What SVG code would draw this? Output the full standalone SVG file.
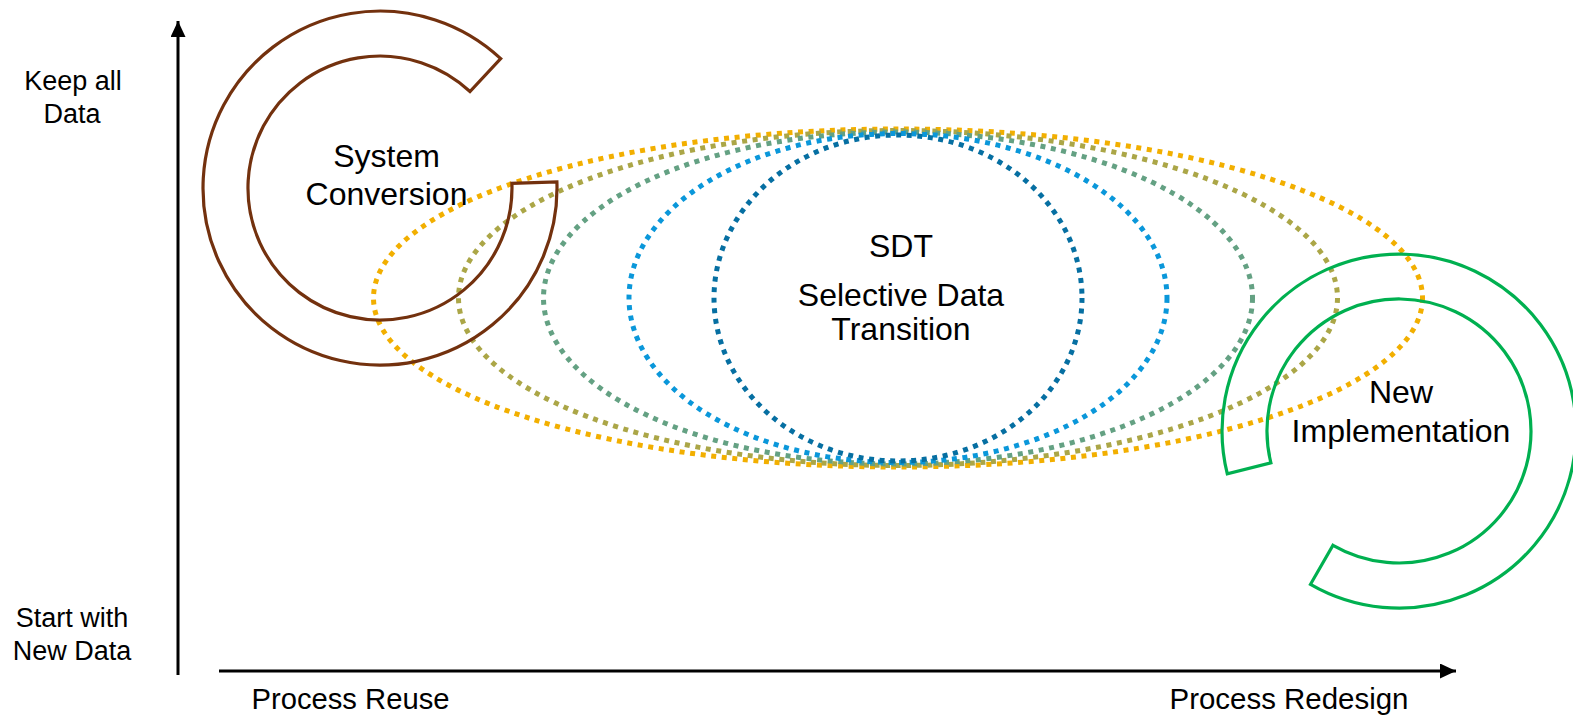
<svg xmlns="http://www.w3.org/2000/svg" width="1573" height="723" viewBox="0 0 1573 723">
  <style>
    text { font-family: "Liberation Sans", Arial, sans-serif; fill: #000; }
    .node { font-size: 32px; text-anchor: middle; }
    .axlab { font-size: 27px; text-anchor: middle; }
    .xlab { font-size: 29px; text-anchor: middle; }
    .dot { fill: none; stroke-width: 5; stroke-dasharray: 5 5.6; }
    .ring { stroke-width: 3.2; fill: none; stroke-linejoin: miter; }
    .axis { stroke: #000; stroke-width: 3; fill: none; }
  </style>
  <defs>
    <marker id="arrow" markerUnits="userSpaceOnUse" markerWidth="18" markerHeight="16" refX="16" refY="7.5" orient="auto">
      <path d="M0,0 L16,7.5 L0,15 Z" fill="#000"/>
    </marker>
  </defs>
  <rect width="1573" height="723" fill="#fff"/>

  <g id="connectors">
    <line class="axis" x1="178" y1="675" x2="178" y2="21" marker-end="url(#arrow)"/>
    <line class="axis" x1="219" y1="671" x2="1456" y2="671" marker-end="url(#arrow)"/>
  </g>

  <g id="sdt">
    <ellipse class="dot" cx="898" cy="298" rx="524.5" ry="169" stroke="#F2AF00"/>
    <ellipse class="dot" cx="898" cy="298" rx="439.5" ry="167.5" stroke="#ABA647"/>
    <ellipse class="dot" cx="898" cy="298" rx="354.5" ry="166" stroke="#64A183"/>
    <ellipse class="dot" cx="898" cy="298" rx="269" ry="164.5" stroke="#0A97DA"/>
    <ellipse class="dot" cx="898" cy="298" rx="184" ry="163" stroke="#066FA2"/>
    <text class="node" x="901" y="257">SDT</text>
    <text class="node" x="901" y="306">Selective Data</text>
    <text class="node" x="901" y="340">Transition</text>
  </g>

  <g id="system-conversion">
    <path class="ring" stroke="#73310E" d="M500.7,58.6 A177,177 0 1 0 556.9,181.8 L511.9,183.4 A132,132 0 1 1 470.0,91.5 Z"/>
    <text class="node" x="386.5" y="167">System</text>
    <text class="node" x="386.5" y="205">Conversion</text>
  </g>

  <g id="new-implementation">
    <path class="ring" stroke="#00B050" d="M1227.3,473.8 A177,177 0 1 1 1310.5,584.3 L1333,545.3 A132,132 0 1 0 1270.9,462.9 Z"/>
    <text class="node" x="1401" y="403">New</text>
    <text class="node" x="1401" y="442">Implementation</text>
  </g>

  <g id="axis-labels">
    <text class="axlab" x="73" y="90">Keep all</text>
    <text class="axlab" x="72" y="123">Data</text>
    <text class="axlab" x="72" y="627">Start with</text>
    <text class="axlab" x="72" y="660">New Data</text>
    <text class="xlab" x="350.5" y="709" textLength="198" lengthAdjust="spacingAndGlyphs">Process Reuse</text>
    <text class="xlab" x="1289" y="709" textLength="239" lengthAdjust="spacingAndGlyphs">Process Redesign</text>
  </g>
</svg>
